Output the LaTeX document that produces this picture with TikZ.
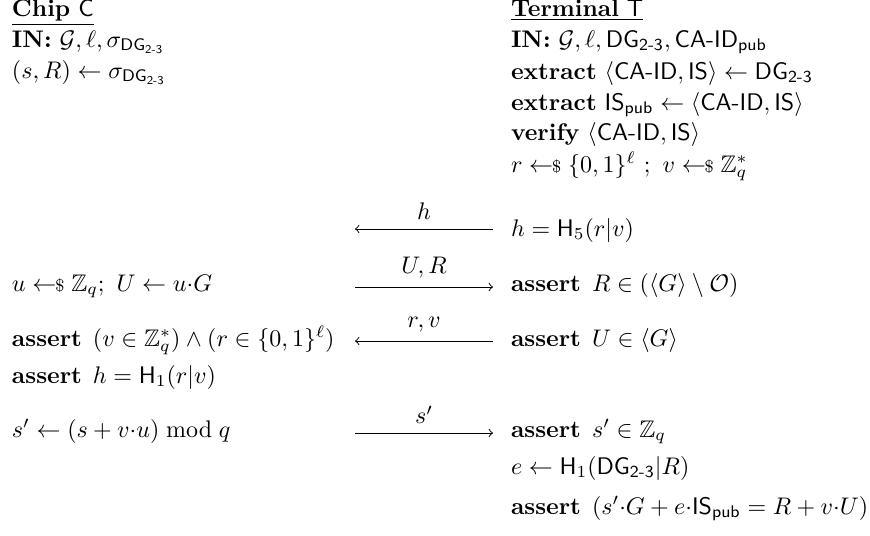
\documentclass[tikz,border=0pt]{standalone}
\usepackage{amsmath,amssymb}
\newcommand{\samp}{\mathrel{\leftarrow\!\!\mbox{\scriptsize\$}}}
\newcommand{\DGt}{\textsf{DG}_{\textsf{2-3}}}
\newcommand{\CAID}{\textsf{CA-ID}}
\newcommand{\ISs}{\textsf{IS}}
\newcommand{\asrt}{\textbf{assert}\hspace{4.6pt}}
\tikzset{
  txt/.style={anchor=base west, inner sep=0pt, outer sep=0pt},
  msg/.style={line width=0.4pt},
  lbl/.style={above=3.6pt, inner sep=0pt}
}
\begin{document}
\begin{tikzpicture}[x=0.41667pt, y=-0.41667pt]
\useasboundingbox (0,0) rectangle (870,535);
% left column (Chip)
\node[txt] (c0) at (12,16) {\underline{\textbf{Chip} $\mathsf{C}$}};
\node[txt] (c1) at (12,47) {\textbf{IN:} $\mathcal{G}, \ell, \sigma_{\DGt}$};
\node[txt] (c2) at (12,78) {$(s,R) \gets \sigma_{\DGt}$};
\node[txt] (c3) at (12,291) {$u \samp \mathbb{Z}_q;\ U \gets u{\cdot}G$};
\node[txt] (c4) at (12,346) {\asrt$(v \in \mathbb{Z}_q^*) \wedge (r \in \{0,1\}^\ell)$};
\node[txt] (c5) at (12,383) {\asrt$h = \mathsf{H}_1(r|v)$};
\node[txt] (c6) at (12,437) {$s' \gets (s + v{\cdot}u) \bmod q$};
% right column (Terminal)
\node[txt] (t0) at (511,16) {\underline{\textbf{Terminal} $\mathsf{T}$}};
\node[txt] (t1) at (511,47) {\textbf{IN:} $\mathcal{G}, \ell, \DGt, \CAID_{\textsf{pub}}$};
\node[txt] (t2) at (511,79) {\textbf{extract} $\langle \CAID, \ISs\rangle \gets \DGt$};
\node[txt] (t3) at (511,110) {\textbf{extract} $\ISs_{\textsf{pub}} \gets \langle \CAID, \ISs\rangle$};
\node[txt] (t4) at (511,140) {\textbf{verify} $\langle \CAID, \ISs\rangle$};
\node[txt] (t5) at (511,172) {$r \samp \{0,1\}^\ell\ ;\ v \samp \mathbb{Z}_q^*$};
\node[txt] (t6) at (511,236) {$h = \mathsf{H}_5(r|v)$};
\node[txt] (t7) at (511,291) {\asrt$R \in (\langle G\rangle \setminus \mathcal{O})$};
\node[txt] (t8) at (511,346) {\asrt$U \in \langle G\rangle$};
\node[txt] (t9) at (511,437) {\asrt$s' \in \mathbb{Z}_q$};
\node[txt] (t10) at (511,474) {$e \gets \mathsf{H}_1(\DGt|R)$};
\node[txt] (t11) at (511,514) {\asrt$(s'{\cdot}G + e{\cdot}\ISs_{\textsf{pub}} = R + v{\cdot}U)$};
% message arrows
\coordinate (m1l) at (355,229); \coordinate (m1r) at (493,229);
\coordinate (m2l) at (355,287); \coordinate (m2r) at (493,287);
\coordinate (m3l) at (355,341); \coordinate (m3r) at (493,341);
\coordinate (m4l) at (355,433); \coordinate (m4r) at (493,433);
\draw[msg,->] (m1r) -- node[lbl] (h) {$h$} (m1l);
\draw[msg,->] (m2l) -- node[lbl] (UR) {$U, R$} (m2r);
\draw[msg,->] (m3r) -- node[lbl] (rv) {$r, v$} (m3l);
\draw[msg,->] (m4l) -- node[lbl] (sp) {$s'$} (m4r);
\end{tikzpicture}
\end{document}
